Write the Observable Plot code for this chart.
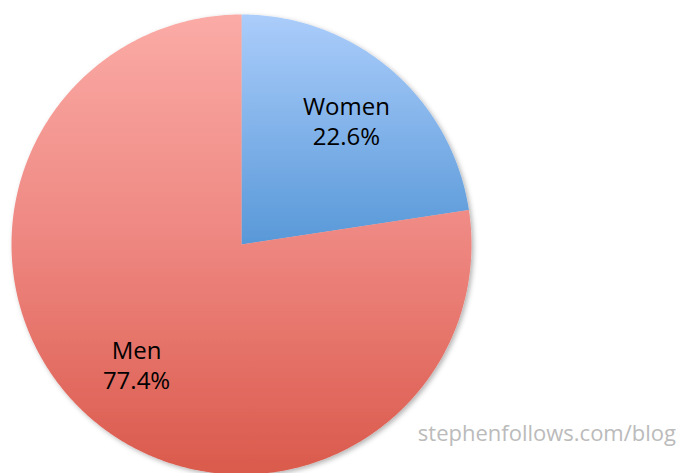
<!DOCTYPE html>
<html><head><meta charset="utf-8">
<script src="https://cdn.jsdelivr.net/npm/d3@7"></script>
<script src="https://cdn.jsdelivr.net/npm/@observablehq/plot@0.6"></script>
<style>body{margin:0;background:#fff;} svg{display:block;}</style>
</head><body><div id="chart"></div>
<script>
const categories = ["Women", "Men"];
const values = [22.6, 77.4];
const labels = ["22.6%", "77.4%"];
const gradIds = ["gradWomen", "gradMen"];
const credit = ["stephenfollows.com/blog"];

const total = d3.sum(values);
let acc = 0;
const slices = categories.map((c, i) => {
  const a0 = acc / total * 2 * Math.PI;
  acc += values[i];
  const a1 = acc / total * 2 * Math.PI;
  const n = Math.max(4, Math.ceil((a1 - a0) / 0.01));
  const ring = [[0, 0]];
  for (let k = 0; k <= n; k++) {
    const a = a0 + (a1 - a0) * k / n;
    ring.push([Math.sin(a), Math.cos(a)]);
  }
  ring.push([0, 0]);
  const am = (a0 + a1) / 2;
  return {
    name: c, pct: labels[i], grad: gradIds[i],
    geom: {type: "Polygon", coordinates: [ring]},
    lx: 0.7 * Math.sin(am), ly: 0.7 * Math.cos(am)
  };
});

const chart = Plot.plot({
  width: 678, height: 473,
  margin: 0,
  projection: () => d3.geoIdentity().reflectY(true).scale(230).translate([241, 244]),
  style: {fontFamily: "'Open Sans', sans-serif", background: "#fff"},
  marks: [
    Plot.geo(slices, {geometry: d => d.geom, fill: d => `url(#${d.grad})`, stroke: "none"}),
    Plot.text(slices, {x: "lx", y: "ly", text: d => d.name + "\n" + d.pct, fill: "#000",
      fontSize: 24, lineHeight: 1.25, textAnchor: "middle", dy: -2})
  ]
});

const svg = d3.select(chart);
const defs = svg.insert("defs", ":first-child");
const g1 = defs.append("linearGradient").attr("id", "gradWomen").attr("x1", 0).attr("y1", 0).attr("x2", 0).attr("y2", 1);
g1.append("stop").attr("offset", "0%").attr("stop-color", "#abcdfb");
g1.append("stop").attr("offset", "100%").attr("stop-color", "#5898d8");
const g2 = defs.append("linearGradient").attr("id", "gradMen").attr("x1", 0).attr("y1", 0).attr("x2", 0).attr("y2", 1);
g2.append("stop").attr("offset", "0%").attr("stop-color", "#fbaba6");
g2.append("stop").attr("offset", "50%").attr("stop-color", "#ee8680");
g2.append("stop").attr("offset", "100%").attr("stop-color", "#da5a4c");
const f = defs.append("filter").attr("id", "shadow").attr("x", "-10%").attr("y", "-10%").attr("width", "120%").attr("height", "120%");
f.append("feDropShadow").attr("dx", 2).attr("dy", 2).attr("stdDeviation", 2.5).attr("flood-color", "#000").attr("flood-opacity", 0.3);
svg.select("g[aria-label='geo']").attr("filter", "url(#shadow)");

svg.append("text").attr("x", 676).attr("y", 441).attr("text-anchor", "end")
  .attr("font-size", 22).attr("fill", "#bbbbbb").attr("font-family", "'Open Sans', sans-serif")
  .text(credit[0]);

document.getElementById("chart").appendChild(chart);
</script></body></html>
